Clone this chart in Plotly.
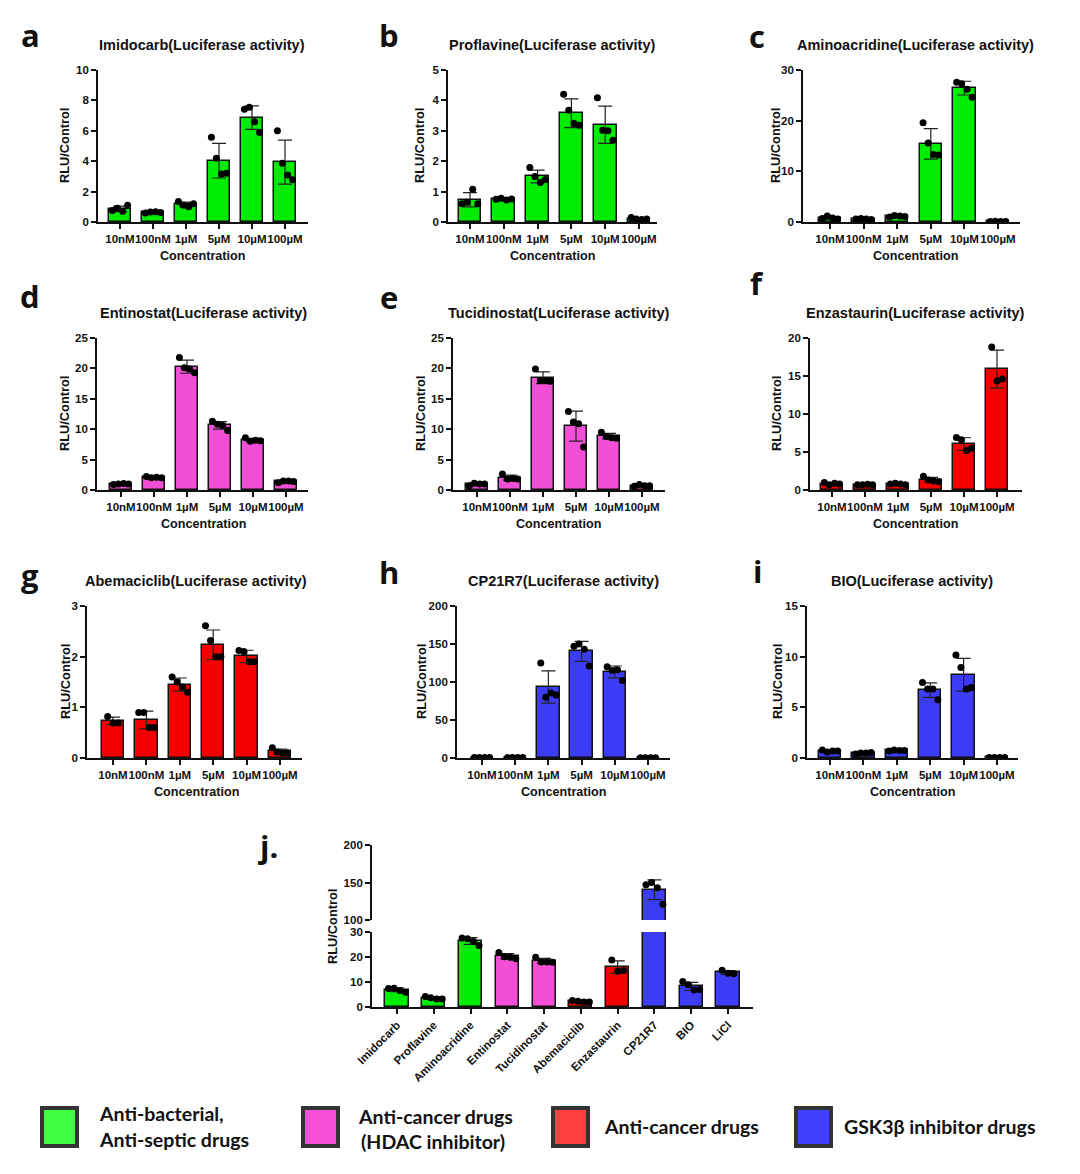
import numpy as np
import plotly.graph_objects as go

# ---------------- DATA ----------------
conc_labels = ["10nM", "100nM", "1µM", "5µM", "10µM", "100µM"]

imidocarb_pts = [[0.75, 0.9, 0.7, 1.1], [0.6, 0.65, 0.68, 0.62], [1.35, 1.1, 1.0, 1.2],
                 [5.58, 4.2, 3.15, 3.2], [7.42, 7.55, 6.6, 5.89], [6.0, 3.87, 3.1, 2.78]]
proflavine_pts = [[0.6, 0.65, 1.08, 0.6], [0.75, 0.78, 0.72, 0.76], [1.79, 1.5, 1.3, 1.4],
                  [4.2, 3.68, 3.24, 3.18], [4.09, 3.02, 3.0, 2.69], [0.15, 0.1, 0.08, 0.1]]
aminoacridine_pts = [[0.7, 1.2, 0.8, 0.6], [0.6, 0.7, 0.6, 0.5], [1.0, 1.3, 1.2, 1.1],
                     [19.6, 15.6, 13.3, 13.2], [27.6, 27.3, 26.2, 24.6], [0.1, 0.15, 0.1, 0.1]]
entinostat_pts = [[0.9, 1.0, 1.05, 1.0], [2.2, 2.0, 2.1, 2.0], [21.8, 20.1, 19.9, 19.3],
                  [11.3, 10.8, 10.6, 9.8], [8.6, 8.0, 8.2, 8.1], [1.2, 1.5, 1.5, 1.4]]
tucidinostat_pts = [[0.7, 1.1, 1.0, 1.0], [2.65, 1.8, 1.9, 1.8], [19.9, 18.0, 18.0, 17.9],
                    [12.9, 11.2, 10.9, 7.06], [9.5, 8.8, 8.6, 8.5], [0.6, 0.9, 0.7, 0.7]]
enzastaurin_pts = [[1.0, 0.7, 0.9, 0.8], [0.7, 0.7, 0.75, 0.7], [0.8, 0.9, 0.8, 0.7],
                   [1.8, 1.3, 1.2, 1.1], [6.9, 6.6, 5.2, 5.5], [18.8, 14.35, 14.6]]
abemaciclib_pts = [[0.82, 0.69, 0.69], [0.9, 0.9, 0.6, 0.6], [1.6, 1.5, 1.4, 1.3],
                   [2.61, 2.32, 2.0, 2.0], [2.12, 2.1, 1.9, 1.9], [0.2, 0.12, 0.1, 0.1]]
cp21r7_pts = [[0.5, 0.5, 0.5, 0.5], [0.5, 0.5, 0.5, 0.5], [125.0, 80.0, 85.5, 83.0],
              [147.0, 150.0, 143.0, 121.0], [120.0, 115.0, 116.0, 102.0], [0.3, 0.3, 0.3, 0.3]]
bio_pts = [[0.8, 0.6, 0.7, 0.7], [0.4, 0.5, 0.5, 0.55], [0.7, 0.8, 0.75, 0.75],
           [7.45, 6.8, 6.8, 5.74], [10.17, 8.93, 6.8, 6.96], [0.05, 0.05, 0.05, 0.05]]
licl_pts = [14.7, 13.5, 13.3]

drug_names = ["Imidocarb", "Proflavine", "Aminoacridine", "Entinostat", "Tucidinostat",
              "Abemaciclib", "Enzastaurin", "CP21R7", "BIO", "LiCl"]
summary_pts = [imidocarb_pts[4], proflavine_pts[3], aminoacridine_pts[4], entinostat_pts[2],
               tucidinostat_pts[2], abemaciclib_pts[3], enzastaurin_pts[5], cp21r7_pts[3],
               bio_pts[4], licl_pts]

legend_labels = [["Anti-bacterial,", "Anti-septic drugs"], ["Anti-cancer drugs", "(HDAC inhibitor)"],
                 ["Anti-cancer drugs"], ["GSK3β inhibitor drugs"]]

# ---------------- STYLE ----------------
GREEN, PINK, RED, BLUE = "#00EC00", "#F24FD6", "#F50000", "#3C3CF5"
LEG_COLORS = ["#40FF40", "#F54FD8", "#FF4040", "#4040FF"]
summary_colors = [GREEN, GREEN, GREEN, PINK, PINK, RED, RED, BLUE, BLUE, BLUE]

W, H = 1080, 1174
def px(x): return x / W
def py(y): return 1 - y / H

FONT = "Liberation Sans, Arial"
TICKFONT = dict(family=FONT, size=11.5, color="#111", weight="bold")
AXIS = dict(showline=True, linecolor="#111", linewidth=1.8, ticks="outside", ticklen=5,
            tickwidth=1.5, tickcolor="#111", showgrid=False, zeroline=False,
            tickfont=TICKFONT, fixedrange=True, automargin=False)

def offsets(n):
    return {4: [-0.23, -0.08, 0.08, 0.23], 3: [-0.16, 0.0, 0.16]}.get(n, [0.0] * n)

# panel: letter, drug, points, colour, ymax, dtick, geometry (x0,x1,first,last,ytop,ybot),
#        title x, ytitle x, letter (x,y)
panels = [
    ("a", "Imidocarb", imidocarb_pts, GREEN, 10, 2, (98, 308, 120, 285, 70, 222), 202, 65, (30, 35)),
    ("b", "Proflavine", proflavine_pts, GREEN, 5, 1, (448, 657, 470, 639, 70, 222), 552, 420, (389, 35)),
    ("c", "Aminoacridine", aminoacridine_pts, GREEN, 30, 10, (803, 1020, 830, 998, 70, 222), 915, 776, (757, 36)),
    ("d", "Entinostat", entinostat_pts, PINK, 25, 5, (97, 308, 121, 286, 338, 490), 203, 65, (30, 296)),
    ("e", "Tucidinostat", tucidinostat_pts, PINK, 25, 5, (453, 665, 477, 642, 338, 490), 558, 421, (389, 297)),
    ("f", "Enzastaurin", enzastaurin_pts, RED, 20, 5, (810, 1022, 832, 997, 338, 490), 915, 777, (757, 283)),
    ("g", "Abemaciclib", abemaciclib_pts, RED, 3, 1, (87, 302, 113, 280, 606, 758), 196, 65, (30, 575)),
    ("h", "CP21R7", cp21r7_pts, BLUE, 200, 50, (457, 670, 482, 648, 606, 758), 563, 421, (389, 572)),
    ("i", "BIO", bio_pts, BLUE, 15, 5, (807, 1018, 830, 997, 606, 758), 912, 777, (757, 571)),
]

fig = go.Figure()
annotations = []

def ann(text, x, y, size, family=FONT, angle=0, xanchor="center",
        yanchor="middle", color="#111"):
    annotations.append(dict(text=text, x=px(x), y=py(y), xref="paper", yref="paper",
                            showarrow=False, textangle=angle, xanchor=xanchor, yanchor=yanchor,
                            font=dict(family=family, size=size, color=color)))

def add_bars(pts_list, colors, xa, ya, width):
    means = [float(np.mean(p)) for p in pts_list]
    sds = [float(np.std(p, ddof=1)) if len(p) > 1 else 0.0 for p in pts_list]
    xs = list(range(len(pts_list)))
    fig.add_trace(go.Bar(x=xs, y=means, width=width, xaxis=xa, yaxis=ya,
                         marker=dict(color=colors, line=dict(color="#111", width=1.5)),
                         error_y=dict(type="data", array=sds, visible=True, color="#222",
                                      thickness=1.2, width=7),
                         showlegend=False, hoverinfo="skip"))
    sx, sy = [], []
    for i, p in enumerate(pts_list):
        for o, v in zip(offsets(len(p)), p):
            sx.append(i + o)
            sy.append(v)
    fig.add_trace(go.Scatter(x=sx, y=sy, mode="markers", xaxis=xa, yaxis=ya,
                             marker=dict(size=7, color="#000"), showlegend=False,
                             hoverinfo="skip"))

layout = {}
for k, (letter, drug, pts, col, ymax, dt, geo, tx, ytx, lpos) in enumerate(panels, start=1):
    x0, x1, first, last, ytop, ybot = geo
    s = (last - first) / 5
    lo = -(first - x0) / s
    hi = 5 + (x1 - last) / s
    add_bars(pts, col, f"x{k}", f"y{k}", 0.67)
    layout[f"xaxis{k}"] = dict(AXIS, domain=[px(x0), px(x1)], range=[lo, hi], anchor=f"y{k}",
                               tickmode="array", tickvals=list(range(6)), ticktext=conc_labels,
                               tickangle=0)
    layout[f"yaxis{k}"] = dict(AXIS, domain=[py(ybot), py(ytop)], range=[0, ymax], anchor=f"x{k}",
                               tick0=0, dtick=dt)
    ann(f"<b>{drug}(Luciferase activity)</b>", tx, ytop - 25, 14.5)
    ann("<b>Concentration</b>", tx, ybot + 34, 12.6)
    ann("<b>RLU/Control</b>", ytx, (ytop + ybot) / 2, 12.8, angle=-90)
    ann(f"<b>{letter}</b>", lpos[0], lpos[1], 31, family="Open Sans")

# ---------------- panel j (broken axis) ----------------
jx0, jx1, jfirst, jlast = 372, 753, 397, 728
js = (jlast - jfirst) / 9
jlo = -(jfirst - jx0) / js
jhi = 9 + (jx1 - jlast) / js
add_bars(summary_pts, summary_colors, "x10", "y10", 0.63)
high_idx = [i for i, p in enumerate(summary_pts) if np.mean(p) > 100]
means_all = [float(np.mean(p)) for p in summary_pts]
sds_all = [float(np.std(p, ddof=1)) for p in summary_pts]
fig.add_trace(go.Bar(x=high_idx, y=[means_all[i] for i in high_idx], width=0.63,
                     xaxis="x10", yaxis="y11",
                     marker=dict(color=[summary_colors[i] for i in high_idx],
                                 line=dict(color="#111", width=1.5)),
                     error_y=dict(type="data", array=[sds_all[i] for i in high_idx], visible=True,
                                  color="#222", thickness=1.2, width=7),
                     showlegend=False, hoverinfo="skip"))
hx, hy = [], []
for i in high_idx:
    for o, v in zip(offsets(len(summary_pts[i])), summary_pts[i]):
        hx.append(i + o)
        hy.append(v)
fig.add_trace(go.Scatter(x=hx, y=hy, mode="markers", xaxis="x10", yaxis="y11",
                         marker=dict(size=7, color="#000"), showlegend=False, hoverinfo="skip"))

layout["xaxis10"] = dict(AXIS, domain=[px(jx0), px(jx1)], range=[jlo, jhi], anchor="y10",
                         tickmode="array", tickvals=list(range(10)), ticktext=drug_names,
                         tickangle=-45)
layout["yaxis10"] = dict(AXIS, domain=[py(1007), py(932)], range=[0, 30], anchor="x10",
                         tick0=0, dtick=10)
layout["yaxis11"] = dict(AXIS, domain=[py(920), py(845)], range=[100, 200], anchor="x10",
                         tick0=100, dtick=50)
ann("<b>RLU/Control</b>", 332, 927, 12.8, angle=-90)
ann("<b>j.</b>", 268, 846, 31, family="Open Sans")

# ---------------- legend ----------------
shapes = []
box_x = [42, 303, 553, 796]
for bx, c in zip(box_x, LEG_COLORS):
    shapes.append(dict(type="rect", xref="paper", yref="paper", x0=px(bx), x1=px(bx + 35),
                       y0=py(1146), y1=py(1108), fillcolor=c, line=dict(color="#333", width=4)))
LEGFONT = "Lato"
LS = 19.5
ann(f"<b>{legend_labels[0][0]}</b>", 97, 1113, LS, family=LEGFONT, xanchor="left")
ann(f"<b>{legend_labels[0][1]}</b>", 97, 1139, LS, family=LEGFONT, xanchor="left")
ann(f"<b>{legend_labels[1][0]}</b>", 435, 1116, LS, family=LEGFONT)
ann(f"<b>{legend_labels[1][1]}</b>", 433, 1141, LS, family=LEGFONT)
ann(f"<b>{legend_labels[2][0]}</b>", 602, 1126, LS, family=LEGFONT, xanchor="left")
ann(f"<b>{legend_labels[3][0]}</b>", 842, 1126, LS, family=LEGFONT, xanchor="left")

fig.update_layout(width=W, height=H, margin=dict(l=0, r=0, t=0, b=0, pad=0, autoexpand=False),
                  paper_bgcolor="white", plot_bgcolor="white", showlegend=False,
                  annotations=annotations, shapes=shapes, bargap=0, **layout)
fig.write_html("out.html")
